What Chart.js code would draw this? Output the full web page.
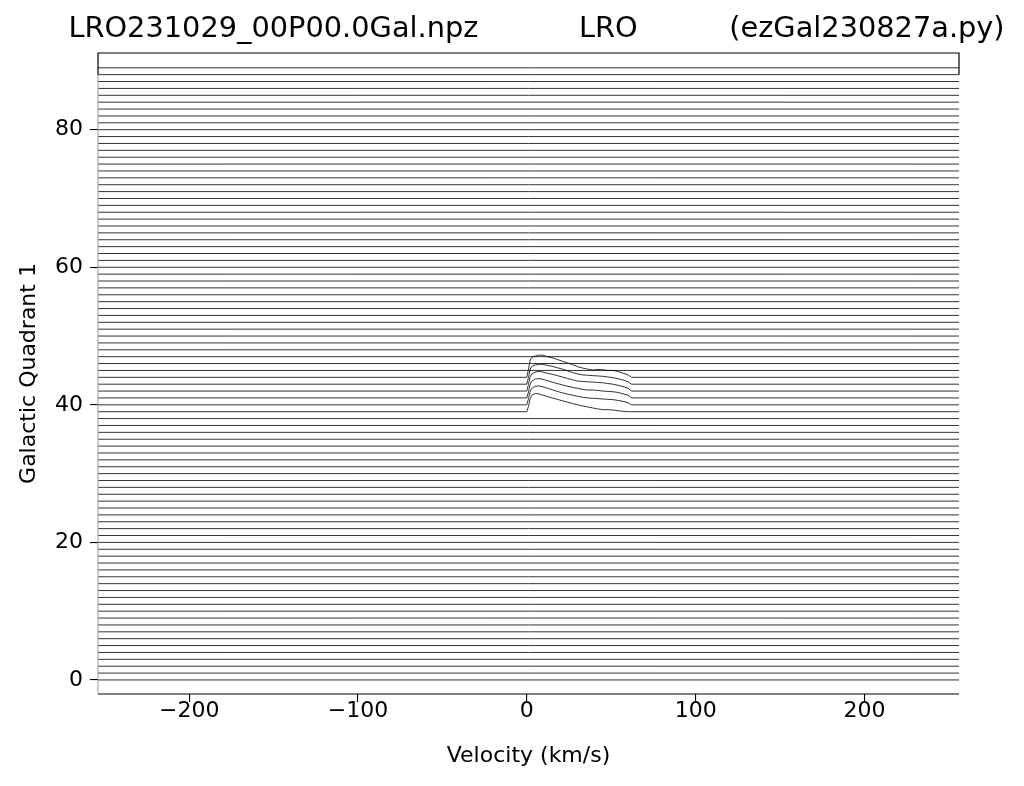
<!DOCTYPE html>
<html>
<head>
<meta charset="utf-8">
<script src="https://cdn.jsdelivr.net/npm/chart.js@4.4.0/dist/chart.umd.min.js"></script>
<style>
  html, body { margin: 0; padding: 0; background: #fff; }
</style>
</head>
<body>
<canvas id="chart" width="1024" height="786"></canvas>
<script>
const titleText = 'LRO231029_00P00.0Gal.npz           LRO          (ezGal230827a.py)'
const xLabel = 'Velocity (km/s)'
const yLabel = 'Galactic Quadrant 1'
const xTicks = [-200, -100, 0, 100, 200]
const yTicks = [0, 20, 40, 60, 80]
const velRange = [-254, 256]

// one trace per galactic longitude, drawn at its own offset
const longitudes = [
  0, 1, 2, 3, 4, 5, 6, 7, 8, 9, 10, 11, 12, 13, 14, 15, 16, 17, 18, 19,
  20, 21, 22, 23, 24, 25, 26, 27, 28, 29, 30, 31, 32, 33, 34, 35, 36, 37, 38, 39,
  40, 41, 42, 43, 44, 45, 46, 47, 48, 49, 50, 51, 52, 53, 54, 55, 56, 57, 58, 59,
  60, 61, 62, 63, 64, 65, 66, 67, 68, 69, 70, 71, 72, 73, 74, 75, 76, 77, 78, 79,
  80, 81, 82, 83, 84, 85, 86, 87, 88, 89
]

// spectra that have signal (height above the trace offset)
const bumpVel = [0, 1, 2, 3, 5, 7, 9, 11, 13, 15, 18, 21, 24, 27, 30, 33, 36, 39, 42, 45, 48, 51, 54, 57, 60, 62]
const amp39 = [0, 0.8, 1.9, 2.4, 2.65, 2.6, 2.45, 2.3, 2.15, 2.0, 1.8, 1.6, 1.4, 1.2, 1.0, 0.85, 0.7, 0.55, 0.4, 0.3, 0.3, 0.25, 0.15, 0.05, 0, 0]
const amp40 = [0, 0.9, 2.0, 2.4, 2.7, 2.75, 2.65, 2.5, 2.35, 2.2, 1.95, 1.75, 1.55, 1.4, 1.25, 1.1, 1.0, 0.95, 0.9, 0.85, 0.8, 0.75, 0.65, 0.5, 0.3, 0]
const amp41 = [0, 0.9, 2.0, 2.45, 2.75, 2.8, 2.75, 2.6, 2.45, 2.3, 2.1, 1.9, 1.7, 1.55, 1.4, 1.25, 1.15, 1.15, 1.1, 1.0, 0.95, 0.9, 0.8, 0.6, 0.4, 0]
const amp42 = [0, 1.0, 2.1, 2.5, 2.75, 2.85, 2.8, 2.65, 2.55, 2.45, 2.25, 2.05, 1.85, 1.65, 1.45, 1.4, 1.35, 1.3, 1.25, 1.2, 1.1, 1.0, 0.85, 0.65, 0.4, 0]
const amp43 = [0, 1.0, 2.2, 2.6, 2.8, 2.85, 2.9, 2.8, 2.7, 2.6, 2.4, 2.2, 1.95, 1.7, 1.5, 1.35, 1.3, 1.25, 1.2, 1.15, 1.05, 0.95, 0.8, 0.6, 0.35, 0]
const amp44 = [0, 1.2, 2.5, 2.9, 3.1, 3.2, 3.25, 3.1, 2.95, 2.85, 2.6, 2.35, 2.1, 1.85, 1.55, 1.35, 1.2, 1.05, 1.15, 1.1, 1.0, 1.0, 0.85, 0.6, 0.35, 0]
const bumps = {39: amp39, 40: amp40, 41: amp41, 42: amp42, 43: amp43, 44: amp44}

const lineColor = 'rgba(0,0,0,0.8)'

const datasets = longitudes.map(lon => {
    let pts = [{x: velRange[0], y: lon}]
    const amps = bumps[lon]
    if (amps) {
        bumpVel.forEach((v, i) => pts.push({x: v, y: lon + amps[i]}))
    }
    pts.push({x: velRange[1], y: lon})
    return {
        data: pts,
        borderColor: lineColor,
        borderWidth: 1,
        pointRadius: 0,
        tension: 0,
    }
})

const framePlugin = {
    id: 'frame',
    afterDatasetsDraw(chart) {
        const {ctx, chartArea: a, scales} = chart
        const yCut = scales.y.getPixelForValue(88)
        ctx.save()
        ctx.strokeStyle = '#000'
        ctx.lineWidth = 1.2
        ctx.beginPath()
        ctx.moveTo(a.left, yCut)
        ctx.lineTo(a.left, a.top)
        ctx.lineTo(a.right, a.top)
        ctx.lineTo(a.right, yCut)
        ctx.moveTo(a.left, a.bottom)
        ctx.lineTo(a.right, a.bottom)
        ctx.stroke()
        ctx.strokeStyle = '#999'
        ctx.lineWidth = 1
        ctx.beginPath()
        ctx.moveTo(a.left, yCut)
        ctx.lineTo(a.left, a.bottom)
        ctx.stroke()

        ctx.fillStyle = '#000'
        ctx.font = '28.8px "DejaVu Sans"'
        ctx.textAlign = 'center'
        ctx.textBaseline = 'middle'
        ctx.fillText(titleText, (a.left + a.right) / 2 + 8, 30)
        ctx.restore()
    }
}

Chart.defaults.font.family = 'DejaVu Sans'
Chart.defaults.font.size = 22
Chart.defaults.color = '#000'

const ctx = document.getElementById('chart').getContext('2d')
const chart = new Chart(ctx, {
    type: 'line',
    data: {datasets: datasets},
    plugins: [framePlugin],
    options: {
        responsive: false,
        animation: false,
        layout: {padding: {left: 12, right: 65, top: 53, bottom: 13}},
        plugins: {
            legend: {display: false},
            tooltip: {enabled: false},
        },
        scales: {
            x: {
                type: 'linear',
                min: velRange[0],
                max: velRange[1],
                afterBuildTicks: s => { s.ticks = xTicks.map(v => ({value: v})) },
                afterFit: s => { s.height = 79 },
                grid: {drawOnChartArea: false, drawTicks: true, tickLength: 8, color: '#000', lineWidth: 1.1},
                border: {display: false},
                ticks: {
                    padding: -4,
                    maxRotation: 0,
                    autoSkip: false,
                    callback: v => String(v).replace('-', '\u2212'),
                },
                title: {display: true, text: xLabel, padding: {top: 4, bottom: 4}},
            },
            y: {
                type: 'linear',
                min: -2.04,
                max: 91.15,
                afterBuildTicks: s => { s.ticks = yTicks.map(v => ({value: v})) },
                afterFit: s => { s.width = 86 },
                grid: {drawOnChartArea: false, drawTicks: true, tickLength: 8, color: '#000', lineWidth: 1.1},
                border: {display: false},
                ticks: {padding: 7, autoSkip: false},
                title: {display: true, text: yLabel, padding: {top: 4, bottom: 4}},
            },
        },
    },
})
</script>
</body>
</html>
